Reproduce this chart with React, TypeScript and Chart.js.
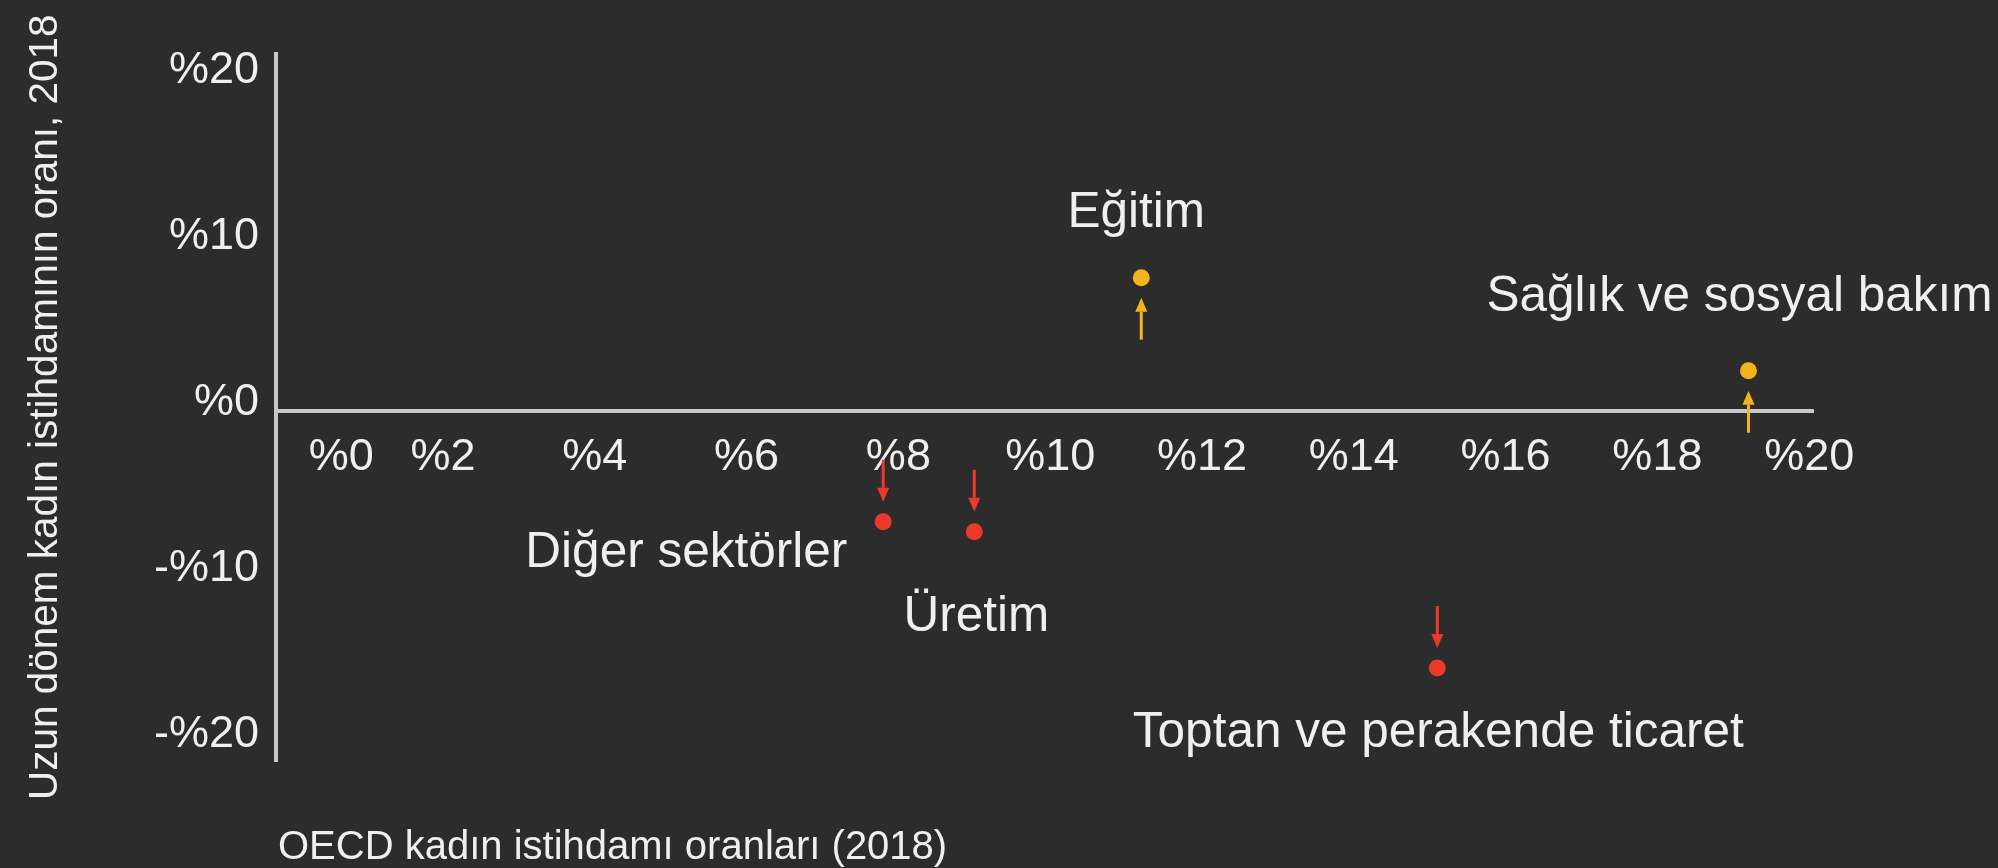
import React, { useEffect, useRef } from "react";
import { Chart, registerables } from "chart.js";

Chart.register(...registerables);

// ---- data ----
const sectors = [
  "Eğitim",
  "Sağlık ve sosyal bakım",
  "Diğer sektörler",
  "Üretim",
  "Toptan ve perakende ticaret",
];
const femaleEmploymentShare = [11.2, 19.2, 7.8, 9.0, 15.1];
const longTermChange = [8.0, 2.4, -6.7, -7.3, -15.5];

const xTickValues = [0, 2, 4, 6, 8, 10, 12, 14, 16, 18, 20];
const xTickLabels = ["%0", "%2", "%4", "%6", "%8", "%10", "%12", "%14", "%16", "%18", "%20"];
const yTickValues = [-20, -10, 0, 10, 20];
const yTickLabels = ["-%20", "-%10", "%0", "%10", "%20"];

const xTitle = "OECD kadın istihdamı oranları (2018)";
const yTitle = "Uzun dönem kadın istihdamının oranı, 2018";

// ---- style ----
const FONT = "'Liberation Sans', Arial, Helvetica, sans-serif";
const BG = "#2c2c2c";
const TEXT = "#efefef";
const AXIS = "#c8c8c8";
const UP_COLOR = "#f3b31c";
const DOWN_COLOR = "#e93a2b";

// label placement relative to each point (style only)
const labelPlacement = [
  { dx: -5, dy: -51, align: "center" },
  { dx: -9, dy: -60, align: "center" },
  { dx: -36, dy: 45, align: "right" },
  { dx: 2, dy: 99, align: "center" },
  { dx: 1, dy: 79, align: "center" },
];

const W = 1998;
const H = 868;

const annotatePlugin = {
  id: "annotate",
  beforeDraw(chart: any) {
    const ctx = chart.ctx;
    ctx.save();
    ctx.fillStyle = BG;
    ctx.fillRect(0, 0, chart.width, chart.height);
    ctx.restore();
  },
  afterDatasetsDraw(chart: any) {
    const ctx = chart.ctx;
    const xs = chart.scales.x;
    const ys = chart.scales.y;
    ctx.save();
    femaleEmploymentShare.forEach((xv, i) => {
      const yv = longTermChange[i];
      const px = xs.getPixelForValue(xv);
      const py = ys.getPixelForValue(yv);
      const up = yv >= 0;
      const color = up ? UP_COLOR : DOWN_COLOR;
      // arrow
      const tipOff = 20;
      const tailOff = 62;
      const dir = up ? 1 : -1; // arrow below (up) or above (down)
      const tipY = py + dir * tipOff;
      const tailY = py + dir * tailOff;
      const headLen = 14;
      const headHalf = 6;
      ctx.strokeStyle = color;
      ctx.fillStyle = color;
      ctx.lineWidth = 3;
      ctx.beginPath();
      ctx.moveTo(px, tailY);
      ctx.lineTo(px, tipY + dir * headLen);
      ctx.stroke();
      ctx.beginPath();
      ctx.moveTo(px, tipY);
      ctx.lineTo(px - headHalf, tipY + dir * headLen);
      ctx.lineTo(px + headHalf, tipY + dir * headLen);
      ctx.closePath();
      ctx.fill();
      // label
      const lp = labelPlacement[i];
      ctx.fillStyle = TEXT;
      ctx.font = `49.5px ${FONT}`;
      ctx.textAlign = lp.align;
      ctx.textBaseline = "alphabetic";
      ctx.fillText(sectors[i], px + lp.dx, py + lp.dy);
    });
    // x axis title
    ctx.fillStyle = TEXT;
    ctx.font = `40px ${FONT}`;
    ctx.textAlign = "left";
    ctx.textBaseline = "middle";
    ctx.fillText(xTitle, chart.chartArea.left + 2, chart.chartArea.bottom + 87);
    ctx.restore();
  },
};

export default function App() {
  const canvasRef = useRef<HTMLCanvasElement | null>(null);

  useEffect(() => {
    const canvas = canvasRef.current;
    if (!canvas) return;
    const chart = new Chart(canvas, {
      type: "scatter",
      data: {
        datasets: [
          {
            label: "Sektörler",
            data: femaleEmploymentShare.map((x, i) => ({ x, y: longTermChange[i] })),
            pointRadius: 8.5,
            pointHoverRadius: 8.5,
            pointBorderWidth: 0,
            pointBackgroundColor: longTermChange.map((v) => (v >= 0 ? UP_COLOR : DOWN_COLOR)),
          },
        ],
      },
      options: {
        animation: false,
        responsive: false,
        devicePixelRatio: 1,
        layout: { padding: { left: 0, top: 53.5, right: 185, bottom: 107 } },
        plugins: {
          legend: { display: false },
          tooltip: { enabled: false },
        },
        scales: {
          x: {
            type: "linear",
            position: { y: 0 } as any,
            min: -0.2,
            max: 20.05,
            afterBuildTicks: (s: any) => {
              s.ticks = xTickValues.map((v) => ({ value: v }));
            },
            grid: { display: false, drawTicks: false },
            border: { display: true, color: AXIS, width: 4 },
            ticks: {
              autoSkip: false,
              maxRotation: 0,
              minRotation: 0,
              padding: 20,
              color: TEXT,
              font: { family: FONT, size: 45 },
              callback: (_v: any, i: number) =>
                i === 0 ? "        " + xTickLabels[i] : xTickLabels[i],
            },
          },
          y: {
            type: "linear",
            position: "left",
            min: -21.1,
            max: 21.5,
            afterBuildTicks: (s: any) => {
              s.ticks = yTickValues.map((v) => ({ value: v }));
            },
            afterFit: (s: any) => {
              s.width = 276;
            },
            grid: { display: false, drawTicks: false },
            border: { display: true, color: AXIS, width: 4 },
            ticks: {
              padding: 17,
              labelOffset: -8,
              color: TEXT,
              font: { family: FONT, size: 45 },
              callback: (_v: any, i: number) => yTickLabels[i],
            },
            title: {
              display: true,
              text: yTitle,
              color: TEXT,
              font: { family: FONT, size: 40.5 },
              padding: { top: 22, bottom: 0 },
            },
          },
        },
      },
      plugins: [annotatePlugin],
    } as any);
    return () => chart.destroy();
  }, []);

  return (
    <div
      style={{
        position: "fixed",
        left: 0,
        top: 0,
        width: W,
        height: H,
        background: BG,
      }}
    >
      <canvas ref={canvasRef} width={W} height={H} style={{ width: W, height: H, display: "block" }} />
    </div>
  );
}
